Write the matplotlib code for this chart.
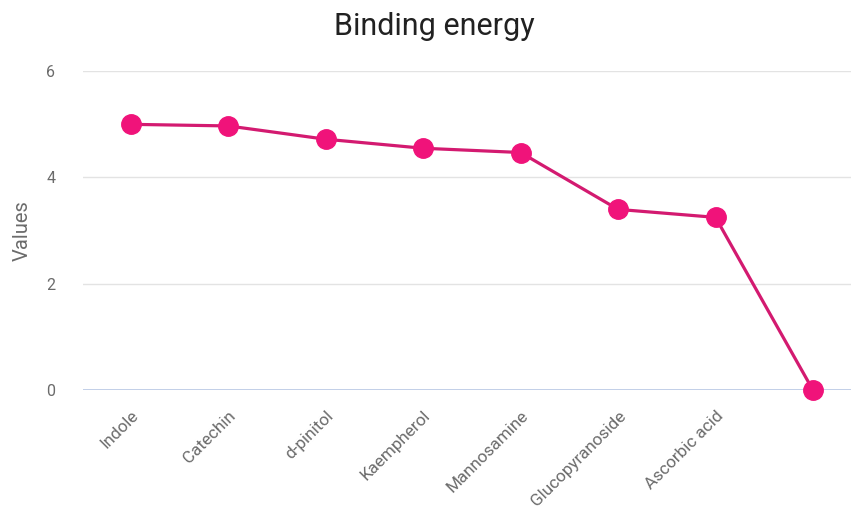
import matplotlib.pyplot as plt
import numpy as np

plt.rcParams['font.family'] = ['Roboto', 'DejaVu Sans']

compounds = ['Indole', 'Catechin', 'd-pinitol', 'Kaempherol', 'Mannosamine',
             'Glucopyranoside', 'Ascorbic acid', '']
energy = [5.0, 4.97, 4.72, 4.55, 4.47, 3.40, 3.25, 0.0]
yticks = [0, 2, 4, 6]

line_col = '#d31a70'
dot_col = '#f0137a'

fig = plt.figure(figsize=(8.51, 5.12), dpi=100)
ax = fig.add_axes([0.0975, 0.238, 0.9025, 0.623])

x = np.arange(len(compounds))
ax.plot(x, energy, color=line_col, lw=2.3, marker='o', markersize=14,
        markerfacecolor=dot_col, markeredgecolor=dot_col, clip_on=False, zorder=3)

ax.set_xlim(-0.49, 7.39)
ax.set_ylim(0, 6)
ax.set_yticks(yticks)
ax.set_xticks(x)
ax.set_xticklabels(compounds, rotation=45, ha='right', va='top',
                   rotation_mode='anchor')
ax.tick_params(axis='both', length=0, colors='#6b6b6b')
ax.tick_params(axis='y', pad=20, labelsize=11.5)
ax.tick_params(axis='x', pad=13, labelsize=12.3)

# grid
for yv in yticks[1:]:
    ax.axhline(yv, color='#e3e3e3', lw=1, zorder=0)
ax.axhline(0, color='#c2cfe8', lw=1.4, zorder=1)
for s in ax.spines.values():
    s.set_visible(False)

ax.set_ylabel('Values', color='#6b6b6b', fontsize=14.5, labelpad=10)
fig.text(434 / 851, 1 - 35 / 512, 'Binding energy', fontsize=22,
         color='#212121', ha='center', va='baseline')

fig.savefig('out.png', dpi=100)
